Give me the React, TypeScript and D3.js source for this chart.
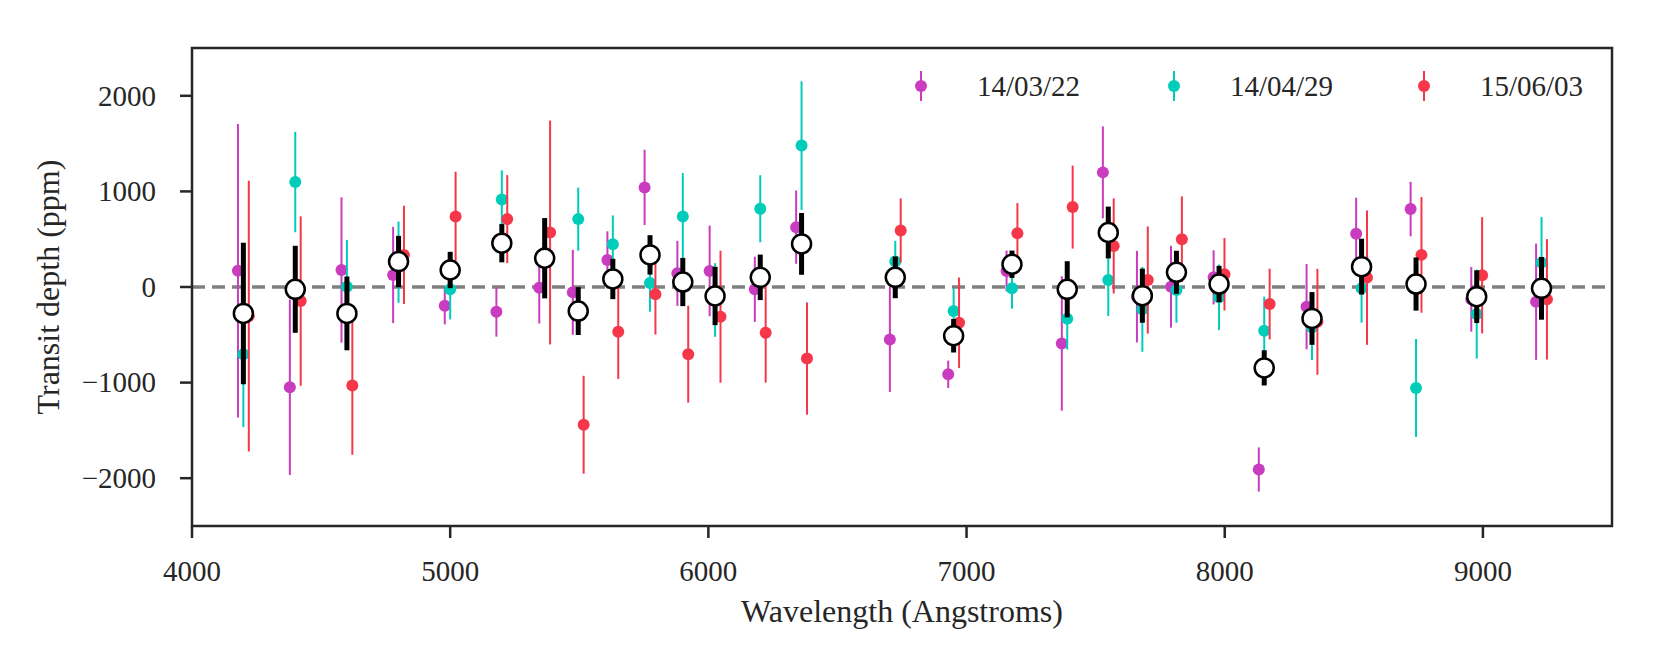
import React from 'react';
import * as d3 from 'd3';

// bin centres (Angstroms)
const wavelengths = [4199, 4400, 4600, 4800, 5000, 5200, 5366, 5496, 5630, 5774, 5901, 6026, 6201, 6361,
  6724, 6950, 7176, 7390, 7549, 7681, 7813, 7978, 8153, 8338, 8530, 8741, 8976, 9227];

// combined spectrum (ppm)
const combined = [-276, -24, -276, 266, 178, 458, 301, -252, 84, 336, 52, -94, 101, 451,
  101, -510, 238, -24, 570, -91, 154, 31, -846, -329, 213, 31, -101, -14];
const combinedErr = [740, 455, 386, 269, 190, 200, 420, 250, 211, 206, 252, 305, 238, 323,
  218, 175, 143, 294, 271, 283, 225, 190, 184, 276, 292, 278, 276, 328];

// individual nights
const dates = ['14/03/22', '14/04/29', '15/06/03'];
const dateColors = ['#c93cbf', '#00cdb9', '#f6374a'];
const dateOffsets = [-21, 0, 21];

const night1 = [171, -1049, 178, 126, -196, -259, -7, -56, 283, 1042, 143, 168, -24, 626,
  -549, -913, 168, -591, 1199, -101, 3, 101, -1909, -206, 556, 815, -129, -154];
const night1Err = [1535, 918, 760, 503, 195, 260, 375, 444, 300, 394, 340, 474, 341, 383,
  549, 143, 213, 703, 481, 479, 428, 283, 231, 446, 378, 285, 338, 608];

const night2 = [-703, 1098, 3, 260, -24, 916, 360, 710, 448, 42, 738, -136, 818, 1479,
  266, -252, -14, -332, 73, -234, -31, -108, -458, -420, -14, -1056, -283, 255];
const night2Err = [762, 525, 490, 425, 315, 304, 300, 330, 300, 300, 454, 385, 351, 673,
  217, 238, 213, 322, 377, 444, 343, 343, 357, 345, 360, 512, 465, 476];

const night3 = [-304, -147, -1031, 336, 738, 710, 570, -1441, -469, -77, -703, -311, -479, -748,
  591, -374, 563, 836, 430, 73, 500, 133, -178, -364, 98, 336, 122, -129];
const night3Err = [1416, 886, 724, 514, 468, 460, 1171, 512, 493, 420, 507, 690, 521, 587,
  336, 473, 315, 434, 498, 560, 448, 379, 370, 554, 703, 605, 608, 630];

const nights = [night1, night2, night3];
const nightErrs = [night1Err, night2Err, night3Err];

const xTicks = [4000, 5000, 6000, 7000, 8000, 9000];
const yTicks = [-2000, -1000, 0, 1000, 2000];

const W = 1661;
const H = 664;
const M = { left: 192, right: 1612, top: 48, bottom: 526 };
const FONT = '"Liberation Serif", "Times New Roman", serif';
const INK = '#262626';

export default function App() {
  const x = d3.scaleLinear().domain([4000, 9500]).range([M.left, M.right]);
  const y = d3.scaleLinear().domain([-2500, 2500]).range([M.bottom, M.top]);

  return (
    <svg width={W} height={H} style={{ position: 'absolute', left: 0, top: 0, background: '#fff' }}
      fontFamily={FONT}>
      {/* zero line */}
      <line x1={M.left} x2={M.right} y1={y(0)} y2={y(0)} stroke="#808080" strokeWidth={3.5}
        strokeDasharray="13,7" />

      {/* individual nights */}
      {nights.map((vals, k) => (
        <g key={dates[k]}>
          {vals.map((v, i) => {
            const cx = x(wavelengths[i] + dateOffsets[k]);
            const e = nightErrs[k][i];
            return (
              <g key={i}>
                <line x1={cx} x2={cx} y1={y(v + e)} y2={y(v - e)} stroke={dateColors[k]} strokeWidth={2} />
                <circle cx={cx} cy={y(v)} r={6} fill={dateColors[k]} />
              </g>
            );
          })}
        </g>
      ))}

      {/* combined */}
      {combined.map((v, i) => {
        const cx = x(wavelengths[i]);
        const e = combinedErr[i];
        return (
          <g key={i}>
            <line x1={cx} x2={cx} y1={y(v + e)} y2={y(v - e)} stroke="#000" strokeWidth={5} />
            <circle cx={cx} cy={y(v)} r={9.5} fill="#fff" stroke="#000" strokeWidth={2.5} />
          </g>
        );
      })}

      {/* frame */}
      <rect x={M.left} y={M.top} width={M.right - M.left} height={M.bottom - M.top} fill="none"
        stroke={INK} strokeWidth={2.5} />

      {/* x axis */}
      {xTicks.map(t => (
        <g key={t}>
          <line x1={x(t)} x2={x(t)} y1={M.bottom} y2={M.bottom + 12} stroke={INK} strokeWidth={2.5} />
          <text x={x(t)} y={581} textAnchor="middle" fontSize={29} fill={INK}>{t}</text>
        </g>
      ))}
      <text x={(M.left + M.right) / 2} y={622} textAnchor="middle" fontSize={32} fill={INK}>
        Wavelength (Angstroms)
      </text>

      {/* y axis */}
      {yTicks.map(t => (
        <g key={t}>
          <line x1={M.left - 12} x2={M.left} y1={y(t)} y2={y(t)} stroke={INK} strokeWidth={2.5} />
          <text x={156} y={y(t)} dy="0.34em" textAnchor="end" fontSize={29} fill={INK}>
            {t < 0 ? `\u2212${Math.abs(t)}` : t}
          </text>
        </g>
      ))}
      <text transform={`translate(59, ${(M.top + M.bottom) / 2}) rotate(-90)`} textAnchor="middle"
        fontSize={32} fill={INK}>
        Transit depth (ppm)
      </text>

      {/* legend */}
      {dates.map((d, k) => {
        const lx = [921, 1174, 1424][k];
        return (
          <g key={d}>
            <line x1={lx} x2={lx} y1={71} y2={101} stroke={dateColors[k]} strokeWidth={2} />
            <circle cx={lx} cy={86} r={6} fill={dateColors[k]} />
            <text x={lx + 56} y={86} dy="0.34em" fontSize={29} fill={INK}>{d}</text>
          </g>
        );
      })}
    </svg>
  );
}
